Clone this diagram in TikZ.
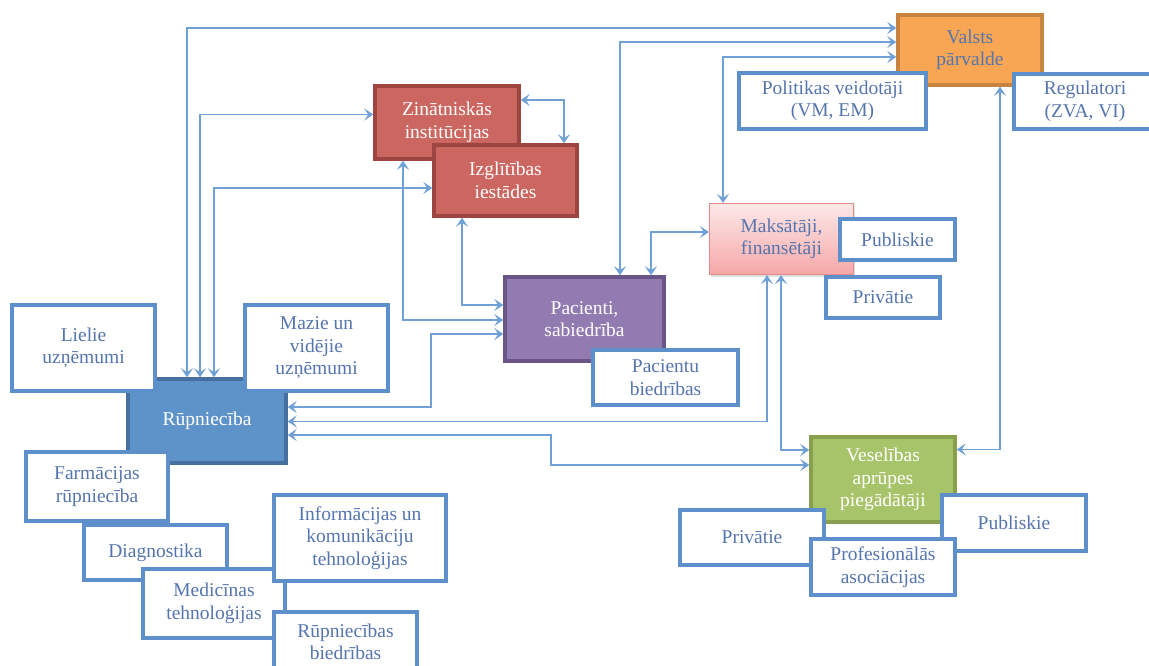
\documentclass[tikz,border=0pt]{standalone}
\usepackage{fontspec}
\setmainfont{Liberation Serif}
\usetikzlibrary{arrows.meta,shadows}
\definecolor{boxblue}{HTML}{5D8FCA}
\definecolor{txtblue}{HTML}{5575AE}
\definecolor{linecol}{HTML}{6FA0D6}
\definecolor{rupfill}{HTML}{5E93C9}
\definecolor{rupdraw}{HTML}{46709F}
\definecolor{zinfill}{HTML}{CC6660}
\definecolor{zindraw}{HTML}{9E4541}
\definecolor{pacfill}{HTML}{927BB0}
\definecolor{pacdraw}{HTML}{6A5686}
\definecolor{valfill}{HTML}{F8A653}
\definecolor{valdraw}{HTML}{C88341}
\definecolor{vesfill}{HTML}{A8C46A}
\definecolor{vesdraw}{HTML}{88A04D}
\definecolor{makstop}{HTML}{FDE8E8}
\definecolor{maksbot}{HTML}{F6A8A8}
\definecolor{maksdraw}{HTML}{E28A88}
\newcommand{\boxfont}{\fontsize{19.5}{22.5}\selectfont}
\tikzset{
  wbox/.style={draw=boxblue, line width=3.5pt, fill=white, text=txtblue, align=center, inner sep=0pt, font=\boxfont},
  cbox/.style={line width=3.5pt, align=center, inner sep=0pt, font=\boxfont,
    drop shadow={shadow xshift=1.5pt, shadow yshift=-2pt, opacity=0.25}},
  barb/.tip={Stealth[length=9pt,width=12pt,inset=4pt]},
  conn/.style={draw=linecol, line width=1.8pt, barb-barb},
}
\begin{document}
\begin{tikzpicture}[x=1pt,y=-1pt]
\useasboundingbox (0,0) rectangle (1149,666);
% ---------- colored main boxes ----------
\node[cbox, fill=rupfill, draw=rupdraw, text=white, minimum width=158pt, minimum height=84pt] (rup) at (207,421) {Rūpniecība};
\node[cbox, fill=zinfill, draw=zindraw, text=white, minimum width=144pt, minimum height=73pt] (zin) at (447,122.5) {Zinātniskās\\institūcijas};
\node[cbox, fill=zinfill, draw=zindraw, text=white, minimum width=143pt, minimum height=71pt] (izgl) at (505.5,180.5) {Izglītības\\iestādes};
\node[cbox, fill=pacfill, draw=pacdraw, text=white, minimum width=159pt, minimum height=84pt] (pac) at (584.5,319) {Pacienti,\\sabiedrība};
\node[cbox, fill=valfill, draw=valdraw, text=txtblue, minimum width=144pt, minimum height=70pt] (valsts) at (970,50) {Valsts\\pārvalde};
\node[cbox, line width=1.2pt, top color=makstop, bottom color=maksbot, draw=maksdraw, text=txtblue, minimum width=144pt, minimum height=71pt] (maks) at (781.5,239) {Maksātāji,\\finansētāji};
\node[cbox, fill=vesfill, draw=vesdraw, text=white, minimum width=144pt, minimum height=85pt] (vesel) at (883,479.5) {Veselības\\aprūpes\\piegādātāji};
% ---------- connectors ----------
\draw[conn] ([xshift=-20pt]rup.north) |- ([yshift=22pt]valsts.west);
\draw[conn] ([xshift=-7pt]rup.north) |- ([yshift=8pt]zin.west);
\draw[conn] ([xshift=7pt]rup.north) |- ([yshift=-7.5pt]izgl.west);
\draw[conn] ([yshift=22.5pt]zin.east) -| ([xshift=58.5pt]izgl.north);
\draw[conn] ([xshift=-44pt]zin.south) |- ([yshift=-1pt]pac.west);
\draw[conn] ([xshift=-43.5pt]izgl.south) |- ([yshift=14pt]pac.west);
\draw[conn] ([yshift=14pt]rup.east) -- ++(143,0) |- ([yshift=-15pt]pac.west);
\draw[conn] ([yshift=-0.5pt]rup.east) -| ([xshift=-14.5pt]maks.south);
\draw[conn] ([yshift=-14pt]rup.east) -- ++(263,0) |- ([yshift=14.5pt]vesel.west);
\draw[conn] ([xshift=-0.5pt]maks.south) |- ([yshift=29.5pt]vesel.west);
\draw[conn] ([xshift=30pt]valsts.south) |- ([yshift=30pt]vesel.east);
\draw[conn] ([yshift=8pt]valsts.west) -| ([xshift=35.5pt]pac.north);
\draw[conn] ([yshift=-7pt]valsts.west) -| ([xshift=-58.5pt]maks.north);
\draw[conn] ([xshift=66.5pt]pac.north) |- ([yshift=7pt]maks.west);
% ---------- white sub-boxes ----------
\node[wbox, minimum width=187pt, minimum height=56pt] (polit) at (832.5,101) {Politikas veidotāji\\(VM, EM)};
\node[wbox, minimum width=142pt, minimum height=55pt] (regul) at (1085,101.5) {Regulatori\\(ZVA, VI)};
\node[wbox, minimum width=115pt, minimum height=41pt] (pub1) at (897.5,239.5) {Publiskie};
\node[wbox, minimum width=114pt, minimum height=41pt] (priv1) at (883,297.5) {Privātie};
\node[wbox, minimum width=145pt, minimum height=55pt] (pbied) at (665.5,377.5) {Pacientu\\biedrības};
\node[wbox, minimum width=143pt, minimum height=86pt] (lielie) at (83.5,348) {Lielie\\uzņēmumi};
\node[wbox, minimum width=143pt, minimum height=86pt] (mazie) at (316.5,348) {Mazie un\\vidējie\\uzņēmumi};
\node[wbox, minimum width=142pt, minimum height=69pt] (farm) at (97,486.5) {Farmācijas\\rūpniecība};
\node[wbox, minimum width=143pt, minimum height=55pt] (diag) at (155.5,552.5) {Diagnostika};
\node[wbox, minimum width=142pt, minimum height=69pt] (med) at (214,603.5) {Medicīnas\\tehnoloģijas};
\node[wbox, minimum width=172pt, minimum height=86pt] (info) at (360,538) {Informācijas un\\komunikāciju\\tehnoloģijas};
\node[wbox, minimum width=143pt, minimum height=60pt] (rbied) at (345.5,642) {Rūpniecības\\biedrības};
\node[wbox, minimum width=144pt, minimum height=55pt] (priv2) at (752,537.5) {Privātie};
\node[wbox, minimum width=144pt, minimum height=56pt] (pub2) at (1014,523) {Publiskie};
\node[wbox, minimum width=144pt, minimum height=56pt] (prof) at (883,567) {Profesionālās\\asociācijas};
\end{tikzpicture}
\end{document}
